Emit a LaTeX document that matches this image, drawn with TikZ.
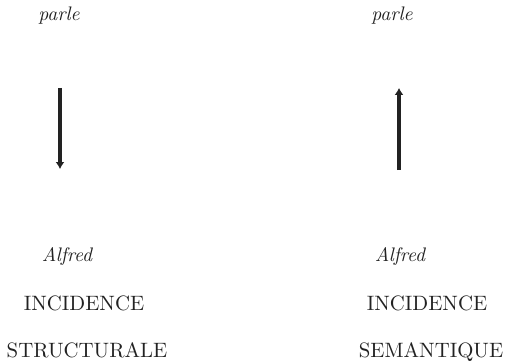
\documentclass[tikz,border=0pt]{standalone}
\usetikzlibrary{arrows.meta}
\definecolor{InkGray}{HTML}{222222}

\begin{document}
\begin{tikzpicture}[x=0.5pt,y=-0.5pt, every node/.style={inner sep=0pt,anchor=base,text=InkGray}]
  \tikzset{word/.style={font=\fontsize{9.8}{11}\selectfont\itshape},
           caps/.style={font=\fontsize{10.4}{12}\selectfont}}
  \useasboundingbox (0,0) rectangle (507,363);
  % left column
  \node[word] (parleL) at (59,21) {parle};
  \node[word] (alfredL) at (67,261) {Alfred};
  \node[caps] (incL) at (84,310) {INCIDENCE};
  \node[caps] (strL) at (87,357) {STRUCTURALE};
  % right column
  \node[word] (parleR) at (392,21) {parle};
  \node[word] (alfredR) at (400,261) {Alfred};
  \node[caps] (incR) at (427,310) {INCIDENCE};
  \node[caps] (semR) at (431,357) {SEMANTIQUE};
  % arrows
  \coordinate (topL) at (60,88);
  \coordinate (botL) at (60,169);
  \coordinate (topR) at (399,88);
  \coordinate (botR) at (399,170);
  \draw[-{Latex[length=3.4pt,width=4.4pt]},line width=1.6pt,InkGray] (topL) -- (botL);
  \draw[-{Latex[length=3.4pt,width=4.4pt]},line width=1.6pt,InkGray] (botR) -- (topR);
\end{tikzpicture}
\end{document}
